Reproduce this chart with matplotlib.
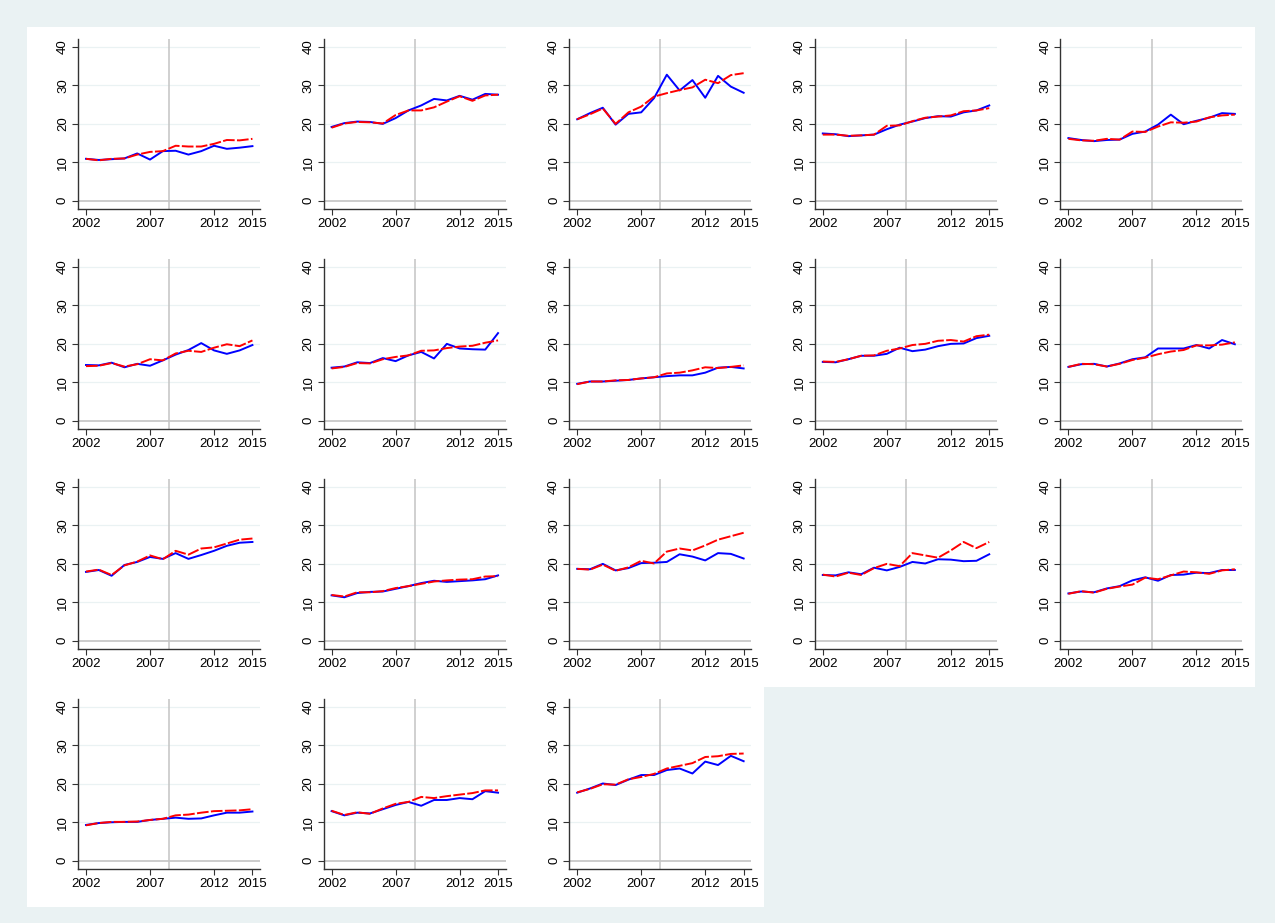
import numpy as np
import matplotlib
matplotlib.use("Agg")
import matplotlib.pyplot as plt
from matplotlib.patches import Rectangle

plt.rcParams['font.family'] = ['Liberation Sans', 'DejaVu Sans']

years = list(range(2002, 2016))
xticks = [2002, 2007, 2012, 2015]
yticks = [0, 10, 20, 30, 40]
break_year = 2008.5

# observed series (solid blue), one list per panel
actual = [
    [10.9, 10.6, 10.8, 11.0, 12.3, 10.7, 12.9, 13.0, 12.0, 12.9, 14.3, 13.5, 13.8, 14.2],
    [19.2, 20.2, 20.6, 20.5, 20.0, 21.5, 23.5, 24.8, 26.5, 26.1, 27.3, 26.3, 27.8, 27.6],
    [21.2, 22.8, 24.2, 19.8, 22.6, 23.0, 26.7, 32.8, 28.7, 31.4, 26.8, 32.5, 29.7, 28.1],
    [17.5, 17.3, 16.8, 17.0, 17.2, 18.6, 19.8, 20.6, 21.5, 22.0, 21.9, 23.0, 23.5, 24.8],
    [16.3, 15.8, 15.5, 15.8, 15.9, 17.4, 18.0, 19.8, 22.4, 19.9, 20.8, 21.6, 22.8, 22.6],
    [14.5, 14.4, 15.1, 13.9, 14.8, 14.3, 15.7, 17.2, 18.4, 20.2, 18.3, 17.4, 18.3, 19.7],
    [13.8, 14.1, 15.2, 15.0, 16.3, 15.5, 17.0, 17.9, 16.2, 20.0, 18.8, 18.6, 18.5, 22.8],
    [9.6, 10.2, 10.2, 10.4, 10.6, 11.0, 11.3, 11.6, 11.8, 11.8, 12.5, 13.8, 14.0, 13.6],
    [15.3, 15.2, 16.0, 16.9, 16.9, 17.4, 19.0, 18.1, 18.5, 19.4, 20.0, 20.1, 21.5, 22.1],
    [14.0, 14.7, 14.8, 14.1, 14.9, 16.0, 16.5, 18.8, 18.8, 18.8, 19.7, 18.8, 21.0, 19.9],
    [17.9, 18.4, 16.9, 19.7, 20.5, 21.8, 21.3, 22.8, 21.3, 22.3, 23.4, 24.7, 25.5, 25.7],
    [11.8, 11.3, 12.4, 12.7, 12.8, 13.5, 14.2, 15.0, 15.6, 15.3, 15.5, 15.7, 16.0, 17.0],
    [18.7, 18.6, 20.0, 18.3, 18.9, 20.2, 20.3, 20.5, 22.5, 21.9, 20.9, 22.8, 22.6, 21.4],
    [17.1, 17.0, 17.8, 17.3, 19.0, 18.3, 19.2, 20.5, 20.1, 21.2, 21.1, 20.7, 20.8, 22.5],
    [12.3, 12.8, 12.6, 13.6, 14.2, 15.7, 16.5, 15.6, 17.1, 17.2, 17.7, 17.6, 18.4, 18.4],
    [9.3, 9.8, 10.0, 10.1, 10.1, 10.6, 10.9, 11.2, 10.9, 11.0, 11.8, 12.5, 12.5, 12.8],
    [12.9, 11.8, 12.5, 12.3, 13.4, 14.5, 15.3, 14.3, 15.8, 15.8, 16.3, 16.0, 18.1, 17.7],
    [17.7, 18.8, 20.1, 19.7, 21.1, 22.3, 22.3, 23.6, 24.0, 22.7, 25.8, 24.9, 27.3, 25.9],
]

# synthetic / predicted series (red dashed)
synthetic = [
    [10.9, 10.5, 10.9, 11.0, 12.0, 12.7, 12.9, 14.3, 14.1, 14.1, 14.8, 15.8, 15.7, 16.1],
    [19.0, 20.1, 20.5, 20.4, 20.1, 22.3, 23.5, 23.5, 24.3, 25.8, 27.2, 26.0, 27.4, 27.6],
    [21.2, 22.5, 24.0, 20.0, 23.0, 24.5, 27.1, 28.0, 28.8, 29.5, 31.5, 30.6, 32.7, 33.2],
    [17.2, 17.2, 16.9, 17.0, 17.2, 19.5, 19.6, 20.7, 21.6, 21.9, 22.2, 23.3, 23.5, 24.1],
    [16.1, 15.7, 15.6, 16.1, 15.9, 18.0, 17.9, 19.3, 20.4, 20.3, 20.6, 21.7, 22.2, 22.4],
    [14.2, 14.3, 15.0, 14.1, 14.7, 16.0, 15.7, 17.5, 18.2, 17.9, 19.0, 19.9, 19.4, 20.9],
    [13.6, 14.0, 15.0, 14.9, 16.0, 16.6, 17.0, 18.2, 18.3, 18.9, 19.3, 19.5, 20.3, 20.9],
    [9.5, 10.2, 10.2, 10.5, 10.6, 11.0, 11.3, 12.3, 12.5, 13.1, 13.9, 13.7, 14.0, 14.4],
    [15.4, 15.3, 16.0, 16.9, 17.0, 18.2, 18.8, 19.7, 20.0, 20.8, 21.0, 20.6, 22.0, 22.4],
    [14.0, 14.8, 14.7, 14.1, 14.8, 15.8, 16.4, 17.3, 18.0, 18.4, 19.6, 19.6, 19.8, 20.4],
    [18.0, 18.5, 17.1, 19.6, 20.6, 22.2, 21.2, 23.4, 22.4, 24.0, 24.3, 25.3, 26.3, 26.6],
    [11.9, 11.5, 12.6, 12.6, 12.9, 13.7, 14.2, 14.8, 15.4, 15.7, 15.9, 16.0, 16.7, 16.8],
    [18.7, 18.5, 19.8, 18.2, 19.1, 20.8, 20.1, 23.2, 24.0, 23.5, 24.8, 26.3, 27.2, 28.1],
    [17.2, 16.7, 17.7, 17.1, 18.9, 20.0, 19.4, 22.8, 22.2, 21.6, 23.5, 25.7, 24.1, 25.7],
    [12.2, 12.9, 12.5, 13.5, 14.1, 14.6, 16.4, 16.0, 17.0, 18.0, 17.8, 17.4, 18.3, 18.6],
    [9.2, 9.8, 10.1, 10.1, 10.2, 10.6, 10.9, 11.8, 12.0, 12.5, 12.9, 13.0, 13.1, 13.4],
    [13.0, 11.9, 12.6, 12.2, 13.6, 14.8, 15.3, 16.6, 16.3, 16.8, 17.2, 17.6, 18.3, 18.3],
    [17.8, 18.7, 19.9, 19.8, 21.2, 21.8, 22.6, 24.0, 24.7, 25.4, 27.0, 27.2, 27.8, 27.9],
]

W, H = 1275, 923
bg = '#EAF2F3'
fig = plt.figure(figsize=(W / 100, H / 100), dpi=100, facecolor=bg)

cell_w, cell_h = 245.6, 220.0
ox, oy = 27, 27


def fbox(x, y, w, h):
    # pixel box (top-left origin) -> figure fraction
    return [x / W, 1 - (y + h) / H, w / W, h / H]


# white graph regions
fig.add_artist(Rectangle((ox / W, 1 - (oy + 3 * cell_h) / H), 5 * cell_w / W, 3 * cell_h / H,
                         transform=fig.transFigure, facecolor='white', edgecolor='none', zorder=0))
fig.add_artist(Rectangle((ox / W, 1 - (oy + 4 * cell_h) / H), 3 * cell_w / W, cell_h / H,
                         transform=fig.transFigure, facecolor='white', edgecolor='none', zorder=0))

for i in range(len(actual)):
    r, c = divmod(i, 5)
    x0 = ox + c * cell_w
    y0 = oy + r * cell_h
    ax = fig.add_axes(fbox(x0 + 51, y0 + 12, 182, 170))
    ax.set_facecolor('white')

    for g in [10, 20, 30, 40]:
        ax.axhline(g, color='#EAF2F3', lw=0.9, zorder=1)
    ax.axhline(0, color='#C8C8C8', lw=1.3, zorder=1)
    ax.axvline(break_year, color='#C4C4C4', lw=1.1, zorder=1)

    ax.plot(years, actual[i], color='#0000FF', lw=1.4, zorder=3)
    ax.plot(years, synthetic[i], color='#FF0000', lw=1.4, dashes=(6, 1.2), zorder=4)

    ax.set_xlim(2001.376, 2015.59)
    ax.set_ylim(-2.17, 42.1)
    ax.set_xticks(xticks)
    ax.set_yticks(yticks)
    ax.set_xticklabels([str(t) for t in xticks], fontsize=9.5)
    ax.set_yticklabels([str(t) for t in yticks], fontsize=9.5, rotation=90, va='center')
    ax.tick_params(axis='both', direction='out', length=4.5, width=0.8, color='#333333', pad=2)
    for s in ['top', 'right']:
        ax.spines[s].set_visible(False)
    ax.spines['left'].set_color('#333333')
    ax.spines['bottom'].set_color('#333333')
    ax.spines['left'].set_linewidth(1.0)
    ax.spines['bottom'].set_linewidth(1.0)

fig.savefig('out.png', dpi=100, facecolor=bg)
